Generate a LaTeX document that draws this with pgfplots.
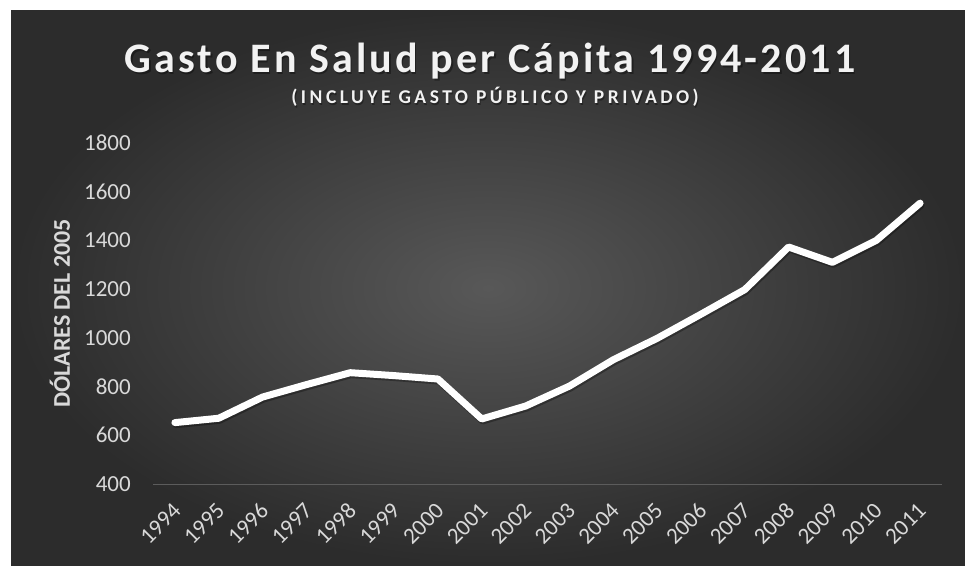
\documentclass[border=0pt]{standalone}
\usepackage{pgfplots}
\pgfplotsset{compat=1.18}
\usepackage{fontspec}
\setmainfont{Carlito}
\newfontfamily\titlefont[LetterSpace=7.5]{Carlito}
\newfontfamily\subfont[LetterSpace=18]{Carlito}
\definecolor{bgin}{HTML}{585858}
\definecolor{bgout}{HTML}{2C2C2C}
\definecolor{ticktext}{HTML}{D9D9D9}
\definecolor{axisline}{HTML}{5C5C5C}
\definecolor{titletext}{HTML}{F2F2F2}
\pgfplotstableread{
x y
0 652
1 670
2 757
3 808
4 857
5 845
6 831
7 667
8 720
9 802
10 910
11 998
12 1097
13 1198
14 1373
15 1310
16 1400
17 1553
}\datatable
\begin{document}
\begin{tikzpicture}[x=1pt,y=1pt]
\fill[white] (0,0) rectangle (965,565);
\shade[inner color=bgin, outer color=bgout] (11,0) rectangle (965,554);
\node[anchor=base, text=black, opacity=0.35, font=\titlefont\bfseries\fontsize{42}{44}\selectfont] at (491.5,490.5) {Gasto En Salud per Cápita 1994-2011};
\node[anchor=base, text=titletext, font=\titlefont\bfseries\fontsize{42}{44}\selectfont] at (490,492) {Gasto En Salud per Cápita 1994-2011};
\node[anchor=base, text=black, opacity=0.35, font=\subfont\bfseries\fontsize{19.5}{21}\selectfont] at (496,459.8) {(INCLUYE GASTO PÚBLICO Y PRIVADO)};
\node[anchor=base, text=titletext, font=\subfont\bfseries\fontsize{19.5}{21}\selectfont] at (495,461) {(INCLUYE GASTO PÚBLICO Y PRIVADO)};
\begin{axis}[
  at={(153pt,81pt)}, anchor=south west,
  scale only axis, width=789pt, height=341pt,
  xmin=-0.5, xmax=17.5, ymin=400, ymax=1800,
  ytick={400,600,...,1800},
  xtick={0,...,17},
  xticklabels={1994,1995,1996,1997,1998,1999,2000,2001,2002,2003,2004,2005,2006,2007,2008,2009,2010,2011},
  axis x line=bottom, axis y line=left,
  x axis line style={-, axisline, line width=1pt},
  y axis line style={draw=none},
  major tick length=0pt,
  /pgf/number format/assume math mode=true,
  /pgf/number format/1000 sep={},
  yticklabel style={anchor=east, inner sep=0pt, xshift=-22pt, text=ticktext, font=\fontsize{23}{23}\selectfont},
  xticklabel style={yshift=-23pt, xshift=2pt, rotate=45, anchor=east, inner sep=0pt, text=ticktext, font=\fontsize{23}{23}\selectfont},
  ylabel={DÓLARES DEL 2005},
  ylabel style={at={(axis description cs:-0.118,0.5)}, rotate=0, anchor=center, text=ticktext, font=\bfseries\fontsize{24}{24}\selectfont},
  clip=false,
]
\addplot[black, opacity=0.3, line width=7pt, line cap=round, line join=round, yshift=-2pt, xshift=1pt] table[x=x,y=y] {\datatable};
\addplot[white, line width=7pt, line cap=round, line join=round] table[x=x,y=y] {\datatable};
\end{axis}
\end{tikzpicture}
\end{document}
